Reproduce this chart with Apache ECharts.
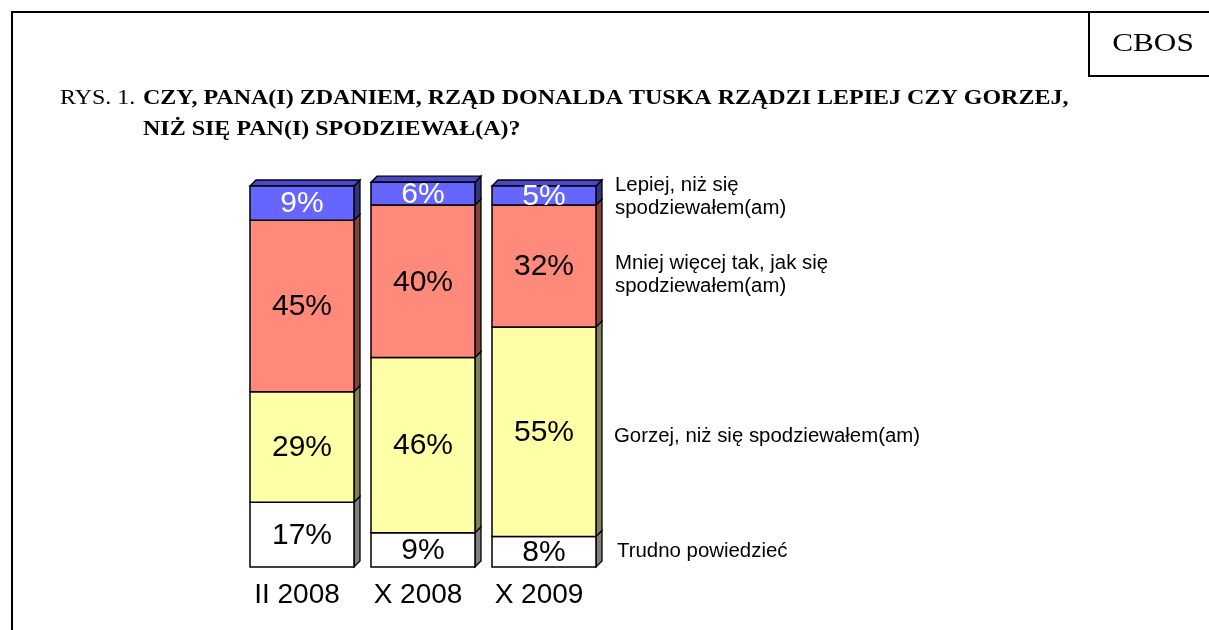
<!DOCTYPE html>
<html>
<head>
<meta charset="utf-8">
<script src="https://cdn.jsdelivr.net/npm/echarts@6/dist/echarts.min.js"></script>
<style>html,body{margin:0;padding:0;background:#fff}#c{width:1209px;height:630px}</style>
</head>
<body>
<div id="c"></div>
<script>
const categories = ['II 2008', 'X 2008', 'X 2009'];
const trudno = [17, 9, 8];
const gorzej = [29, 46, 55];
const mniej = [45, 40, 32];
const lepiej = [9, 6, 5];
const legendLabels = ['Trudno powiedzieć', 'Gorzej, niż się spodziewałem(am)', 'Mniej więcej tak, jak się\nspodziewałem(am)', 'Lepiej, niż się\nspodziewałem(am)'];
const titlePrefix = 'RYS. 1.';
const titleLine1 = 'CZY, PANA(I) ZDANIEM, RZĄD DONALDA TUSKA RZĄDZI LEPIEJ CZY GORZEJ,';
const titleLine2 = 'NIŻ SIĘ PAN(I) SPODZIEWAŁ(A)?';
const brand = 'CBOS';

const layers = [trudno, gorzej, mniej, lepiej];
const styles = [
  {front: '#FFFFFF', side: '#808080', top: '#B0B0B0', label: '#000000'},
  {front: '#FFFFA8', side: '#80805A', top: '#D0D080', label: '#000000'},
  {front: '#FF897A', side: '#80443C', top: '#C06050', label: '#000000'},
  {front: '#6666FF', side: '#333388', top: '#4848CC', label: '#FFFFFF'}
];
const W = 104, D = 6, SHIFT = 5;
const SANS = '"Liberation Sans", Arial, sans-serif';
const SERIF = '"Liberation Serif", "Times New Roman", serif';
const TSX = 1.2;

function buildData(li) {
  return categories.map((c, i) => {
    let base = 0;
    for (let k = 0; k < li; k++) base += layers[k][i];
    return [i, layers[li][i], base, li === layers.length - 1 ? 1 : 0];
  });
}

function makeRender(st) {
  return function (params, api) {
    const ci = api.value(0), v = api.value(1), base = api.value(2), isTop = api.value(3);
    const pB = api.coord([ci, base]);
    const pT = api.coord([ci, base + v]);
    const cx = pB[0] + SHIFT;
    const x0 = cx - W / 2, x1 = cx + W / 2;
    const yB = pB[1], yT = pT[1];
    const children = [
      {type: 'polygon', shape: {points: [[x1, yT], [x1 + D, yT - D], [x1 + D, yB - D], [x1, yB]]},
        style: {fill: st.side, stroke: '#000', lineWidth: 1.3}}
    ];
    if (isTop) {
      children.push({type: 'polygon', shape: {points: [[x0, yT], [x0 + D, yT - D], [x1 + D, yT - D], [x1, yT]]},
        style: {fill: st.top, stroke: '#000', lineWidth: 1.3}});
    }
    children.push({type: 'rect', shape: {x: x0, y: yT, width: W, height: yB - yT},
      style: {fill: st.front, stroke: '#000', lineWidth: 1.5}});
    children.push({type: 'text', style: {text: v + '%', x: cx, y: (yT + yB) / 2 + 1,
      align: 'center', verticalAlign: 'middle', textAlign: 'center', textVerticalAlign: 'middle',
      font: '30px ' + SANS, fill: st.label}});
    return {type: 'group', children: children};
  };
}

const chart = echarts.init(document.getElementById('c'), null, {renderer: 'canvas'});

function txt(text, x, y, font, align, sx, extra) {
  return Object.assign({type: 'text', x: x, y: y, scaleX: sx || 1,
    style: Object.assign({text: text, x: 0, y: 0, align: align, verticalAlign: 'middle', textAlign: align, textVerticalAlign: 'middle', font: font, fill: '#000'}, extra || {})});
}

const graphics = [
  {type: 'polyline', shape: {points: [[12, 632], [12, 12], [1211, 12]]}, style: {stroke: '#000', lineWidth: 2, fill: null}},
  {type: 'polyline', shape: {points: [[1089, 12], [1089, 76], [1211, 76]]}, style: {stroke: '#000', lineWidth: 2, fill: null}},
  txt(brand, 1153, 44, '26px ' + SERIF, 'center', TSX),
  txt(titlePrefix, 60, 99, '20px ' + SERIF, 'left', TSX),
  txt(titleLine1, 143, 99, 'bold 20px ' + SERIF, 'left', TSX),
  txt(titleLine2, 143, 130, 'bold 20px ' + SERIF, 'left', TSX)
];
const legendY = [551, 436, 275, 197];
const legendX = [617, 614, 615, 615];
legendLabels.forEach((t, i) => {
  graphics.push(txt(t, legendX[i], legendY[i], '20px ' + SANS, 'left', 1.02, {lineHeight: 23}));
});

chart.setOption({
  animation: false,
  backgroundColor: '#fff',
  grid: {left: 236.5, width: 363, top: 186, height: 381, containLabel: false},
  xAxis: {type: 'category', data: categories, axisLine: {show: false}, axisTick: {show: false},
    axisLabel: {fontSize: 28, fontFamily: SANS, color: '#000', margin: 14}},
  yAxis: {type: 'value', min: 0, max: 100, show: false, splitLine: {show: false}},
  graphic: graphics,
  series: layers.map((arr, li) => ({
    type: 'custom', clip: false, renderItem: makeRender(styles[li]), data: buildData(li)
  }))
});
</script>
</body>
</html>
